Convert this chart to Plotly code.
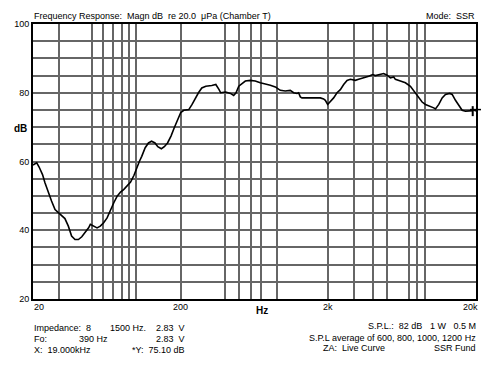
import math
import plotly.graph_objects as go

# ---- data ----
freq_hz = [20.0, 21.2, 22.0, 23.2, 24.1, 25.4, 26.7, 28.2, 29.7, 31.2, 32.9, 34.7, 36.5, 38.5,
           40.6, 42.8, 45.2, 47.6, 48.9, 51.5, 54.3, 57.1, 60.2, 63.5, 66.9, 70.5, 74.3, 78.3,
           82.5, 86.9, 91.6, 96.6, 101, 105, 109, 115, 121, 127, 134, 140, 148, 155, 163, 172,
           181, 190, 200, 210, 227, 239, 251, 264, 278, 296, 325, 346, 364, 373, 403, 435, 457,
           474, 495, 521, 548, 592, 640, 692, 748, 809, 875, 945, 1022, 1077, 1105, 1164, 1227,
           1258, 1292, 1326, 1434, 1590, 1766, 1858, 1908, 1979, 2064, 2172, 2290, 2412, 2540,
           2678, 2820, 3048, 3208, 3381, 3564, 3753, 3994, 4164, 4505, 4742, 5000, 5262, 5545,
           5691, 6154, 6652, 7192, 7573, 7779, 8186, 8630, 9094, 9829, 10346, 10628, 11195,
           11800, 12420, 13282, 13794, 14522, 15286, 16114, 16983, 17878, 18852, 19000, 20000]
spl_db = [59.0, 59.6, 58.4, 56.2, 53.8, 50.9, 48.5, 46.0, 45.1, 44.1, 43.4, 41.2, 38.3, 37.3,
          37.3, 38.1, 39.3, 40.7, 41.7, 41.2, 40.7, 41.2, 42.2, 43.6, 46.0, 48.0, 49.9, 51.1,
          51.9, 52.8, 54.0, 56.0, 58.5, 60.0, 61.5, 64.0, 65.4, 65.9, 65.4, 64.3, 63.7, 64.3,
          65.4, 67.4, 69.8, 72.2, 74.2, 74.9, 75.1, 76.6, 78.5, 80.0, 81.4, 81.9, 82.1, 82.4,
          80.9, 80.0, 80.2, 79.8, 79.2, 80.0, 81.9, 82.7, 83.4, 83.6, 83.4, 82.9, 82.6, 82.2,
          81.7, 80.7, 80.5, 80.5, 80.7, 80.0, 79.8, 80.0, 78.8, 78.5, 78.5, 78.5, 78.5, 78.2,
          77.8, 76.6, 77.5, 78.5, 80.0, 80.9, 82.4, 83.6, 83.9, 83.6, 83.9, 84.3, 84.5, 84.8,
          85.3, 85.0, 85.3, 85.6, 85.1, 84.3, 84.6, 83.9, 83.4, 82.9, 81.9, 80.5, 79.8, 78.5,
          77.3, 76.6, 76.1, 75.6, 75.3, 76.6, 78.5, 79.5, 79.8, 79.5, 77.8, 76.3, 74.9, 74.6,
          74.6, 74.8, 75.1, 74.7]

x_grid_hz = [30, 50, 60, 70, 80, 90, 100, 200, 400, 500, 600, 700, 900,
             2000, 3000, 4000, 5000, 7000, 8000, 9000]
x_label_hz = [20, 200, 2000, 20000]
x_label_text = ["20", "200", "2k", "20k"]
y_grid_db = list(range(20, 101, 5))
y_label_db = [20, 40, 60, 80, 100]

cursor_x_hz = 19000
cursor_y_db = 75.10

FONT = "Liberation Sans, Arial, sans-serif"
W, H = 497, 366
L, R, T, B = 33, 21, 24, 67
PW, PH = W - L - R, H - T - B


def px(x):
    return (x - L) / PW


def py(y):
    return (H - B - y) / PH


fig = go.Figure()
fig.add_trace(go.Scatter(x=freq_hz, y=spl_db, mode="lines",
                         line=dict(color="black", width=1.6), hoverinfo="skip"))

fig.update_layout(
    width=W, height=H,
    margin=dict(l=L, r=R, t=T, b=B, autoexpand=False),
    paper_bgcolor="white", plot_bgcolor="white",
    showlegend=False,
    font=dict(family=FONT, size=9, color="black"),
    xaxis=dict(type="log", range=[math.log10(20), math.log10(20000)],
               tickmode="array", tickvals=x_grid_hz, ticktext=[""] * len(x_grid_hz),
               showgrid=True, gridcolor="#666666", gridwidth=2, automargin=False,
               showline=True, mirror=True, linecolor="black", linewidth=2,
               ticks="", zeroline=False),
    yaxis=dict(range=[20, 100], tickmode="array", tickvals=y_grid_db,
               ticktext=[str(v) if v in y_label_db else "" for v in y_grid_db],
               showgrid=True, gridcolor="#666666", gridwidth=2, automargin=False,
               showline=True, mirror=True, linecolor="black", linewidth=2,
               ticks="", zeroline=False, tickfont=dict(size=9, family=FONT)),
)

annots = []
# x tick labels
for v, t in zip(x_label_hz, x_label_text):
    xa = "center"
    xx = px(L + 147.5 * math.log10(v / 20))
    if v == 20:
        xx = px(32)
        xa = "left"
    elif v == 20000:
        xx = px(480)
        xa = "right"
    annots.append(dict(x=xx, y=py(306.5), text=t, xanchor=xa, yanchor="middle"))

annots.append(dict(x=px(261.5), y=py(310.5), text="<b>Hz</b>", xanchor="center", yanchor="middle",
                   font=dict(size=10)))
annots.append(dict(x=px(20), y=py(128), text="<b>dB</b>", xanchor="center", yanchor="middle",
                   font=dict(size=10)))

# header
annots.append(dict(x=px(32), y=py(16), text="Frequency Response:  Magn dB  re 20.0  \u03bcPa (Chamber T)",
                   xanchor="left", yanchor="middle"))
annots.append(dict(x=px(477), y=py(16), text="Mode:  SSR", xanchor="right", yanchor="middle"))

# footer left
foot_left = [
    (32, 328, "Impedance:  8", "left"), (108, 328, "1500 Hz.", "left"), (187, 328, "2.83  V", "right"),
    (32, 339, "Fo:", "left"), (110, 339, "390 Hz", "right"), (187, 339, "2.83  V", "right"),
    (32, 350, "X:  19.000kHz", "left"), (187, 350, "*Y:  75.10 dB", "right"),
]
for x, y, t, a in foot_left:
    annots.append(dict(x=px(x), y=py(y), text=t, xanchor=a, yanchor="middle"))

foot_right = [
    (478, 326, "S.P.L.:  82 dB   1 W   0.5 M", "right"),
    (478, 337.5, "S.P.L average of 600, 800, 1000, 1200 Hz", "right"),
    (387, 348, "ZA:  Live Curve", "right"),
    (478, 348, "SSR Fund", "right"),
]
for x, y, t, a in foot_right:
    annots.append(dict(x=px(x), y=py(y), text=t, xanchor=a, yanchor="middle"))

for a in annots:
    a.setdefault("xref", "paper")
    a.setdefault("yref", "paper")
    a.setdefault("showarrow", False)
fig.update_layout(annotations=annots)

# cursor marker
fig.add_shape(type="line", xref="x", yref="y", x0=cursor_x_hz, x1=cursor_x_hz,
              y0=cursor_y_db - 1.9, y1=cursor_y_db + 1.0, line=dict(color="black", width=2))
fig.add_shape(type="line", xref="paper", yref="y", x0=px(470), x1=px(481),
              y0=cursor_y_db, y1=cursor_y_db, line=dict(color="black", width=1.5))

fig.write_html("out.html", config={"displayModeBar": False},
               post_script="document.body.style.margin='0';document.body.style.overflow='hidden';")
